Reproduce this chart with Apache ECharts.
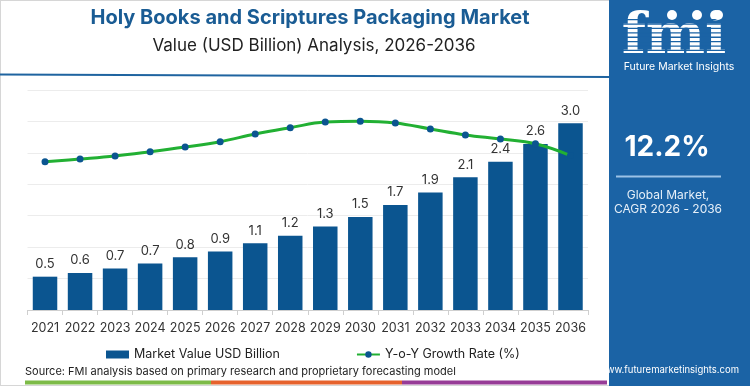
<!DOCTYPE html>
<html>
<head>
<meta charset="utf-8">
<script src="https://cdn.jsdelivr.net/npm/echarts@6/dist/echarts.min.js"></script>
<style>
html,body{margin:0;padding:0;background:#fff;}
#chart{width:750px;height:386px;}
</style>
</head>
<body>
<div id="chart"></div>
<script>
var years = ['2021','2022','2023','2024','2025','2026','2027','2028','2029','2030','2031','2032','2033','2034','2035','2036'];
var marketValue = [0.53,0.59,0.66,0.74,0.84,0.93,1.06,1.18,1.33,1.48,1.67,1.87,2.11,2.36,2.64,2.97];
var yoyGrowth = [9.44,9.61,9.80,10.07,10.37,10.71,11.20,11.60,11.96,12.01,11.90,11.52,11.14,10.88,10.58,9.83];
var valueTicks = [0,0.5,1,1.5,2,2.5,3,3.5];

var FONT = 'Inter, "Noto Sans", sans-serif';
var panel = '#1b63a5';
var chart = echarts.init(document.getElementById('chart'), null, {renderer:'canvas'});

var stripes = [];
for (var i = 0; i < 9; i++) {
  stripes.push({type:'rect', shape:{x:622, y:19 + i*4.4, width:104, height:1.3}, style:{fill:panel}, z:12});
}

chart.setOption({
  animation:false,
  textStyle:{fontFamily:FONT},
  grid:{left:27.5, right:162, top:90, bottom:76, containLabel:false},
  legend:{
    bottom:20, left:101, itemGap:76, itemWidth:23, itemHeight:8,
    textStyle:{fontSize:12.5, color:'#222', fontFamily:FONT},
    data:[
      {name:'Market Value USD Billion', icon:'rect'},
      {name:'Y-o-Y Growth Rate (%)'}
    ]
  },
  xAxis:{
    type:'category', data:years,
    axisLine:{lineStyle:{color:'#cfcfcf'}},
    axisTick:{show:true, length:5, lineStyle:{color:'#cfcfcf'}},
    axisLabel:{interval:0, fontSize:12.5, color:'#333', margin:12, fontFamily:FONT}
  },
  yAxis:[
    {type:'value', min:0, max:valueTicks[valueTicks.length-1], interval:0.5,
     axisLabel:{show:false}, axisLine:{show:false}, axisTick:{show:false},
     splitLine:{lineStyle:{color:'#ececec'}}},
    {type:'value', min:0, max:14, interval:2,
     axisLabel:{show:false}, axisLine:{show:false}, axisTick:{show:false},
     splitLine:{show:false}}
  ],
  series:[
    {name:'Market Value USD Billion', type:'bar', data:marketValue, barWidth:24.5,
     itemStyle:{color:'#0b5590'},
     label:{show:true, position:'top', distance:6, fontSize:13, color:'#333', fontFamily:FONT,
       formatter:function(p){return p.value.toFixed(1);}}},
    {name:'Y-o-Y Growth Rate (%)', type:'line', yAxisIndex:1, data:yoyGrowth, smooth:0.4,
     symbol:'circle', symbolSize:7, clip:false,
     lineStyle:{color:'#22b033', width:3},
     itemStyle:{color:'#0b5590'}, z:5}
  ],
  graphic:[
    {type:'rect', shape:{x:0,y:0,width:750,height:386}, style:{fill:'none', stroke:'#d6d6d6', lineWidth:2}, z:0, silent:true},
    {type:'text', style:{x:310, y:18, text:'Holy Books and Scriptures Packaging Market', fill:'#1a5c94', font:'bold 20px '+FONT, align:'center', verticalAlign:'middle'}},
    {type:'text', style:{x:314, y:46, text:'Value (USD Billion) Analysis, 2026-2036', fill:'#222', font:'17px '+FONT, align:'center', verticalAlign:'middle'}},
    {type:'line', shape:{x1:0, y1:74.5, x2:610, y2:77}, style:{stroke:'#1f64a0', lineWidth:2}},
    {type:'rect', shape:{x:609, y:0, width:141, height:386}, style:{fill:panel}, z:10},
    {type:'text', style:{x:674, y:38, text:'fmi', fill:'#fff', font:'bold 56px "DejaVu Serif", serif', align:'center', verticalAlign:'middle'}, z:11},
    {type:'group', children:stripes},
    {type:'circle', shape:{cx:672, cy:15, r:5}, style:{fill:'#fff'}, z:13},
    {type:'circle', shape:{cx:697, cy:15, r:5}, style:{fill:'#fff'}, z:13},
    {type:'circle', shape:{cx:718, cy:15, r:5}, style:{fill:'#fff'}, z:13},
    {type:'text', style:{x:679, y:67, text:'Future Market Insights', fill:'#fff', font:'10.5px '+FONT, align:'center', verticalAlign:'middle'}, z:13},
    {type:'text', style:{x:667, y:148, text:'12.2%', fill:'#fff', font:'bold 28px '+FONT, align:'center', verticalAlign:'middle'}, z:13},
    {type:'line', shape:{x1:616, y1:176.5, x2:721, y2:176.5}, style:{stroke:'#9cc2e6', lineWidth:2}, z:13},
    {type:'text', style:{x:668, y:195, text:'Global Market,', fill:'#e6eff8', font:'12px '+FONT, align:'center', verticalAlign:'middle'}, z:13},
    {type:'text', style:{x:668, y:209, text:'CAGR 2026 - 2036', fill:'#e6eff8', font:'12px '+FONT, align:'center', verticalAlign:'middle'}, z:13},
    {type:'text', style:{x:669, y:370, text:'www.futuremarketinsights.com', fill:'#fff', font:'9.5px '+FONT, align:'center', verticalAlign:'middle'}, z:13},
    {type:'text', style:{x:25, y:372, text:'Source: FMI analysis based on primary research and proprietary forecasting model', fill:'#222', font:'11px '+FONT, align:'left', verticalAlign:'middle'}},
    {type:'rect', shape:{x:25, y:380.5, width:186, height:4}, style:{fill:'#7dbb48'}},
    {type:'rect', shape:{x:211, y:380.5, width:191, height:4}, style:{fill:'#e6622d'}},
    {type:'rect', shape:{x:402, y:380.5, width:205, height:4}, style:{fill:'#973c97'}}
  ]
});
</script>
</body>
</html>
